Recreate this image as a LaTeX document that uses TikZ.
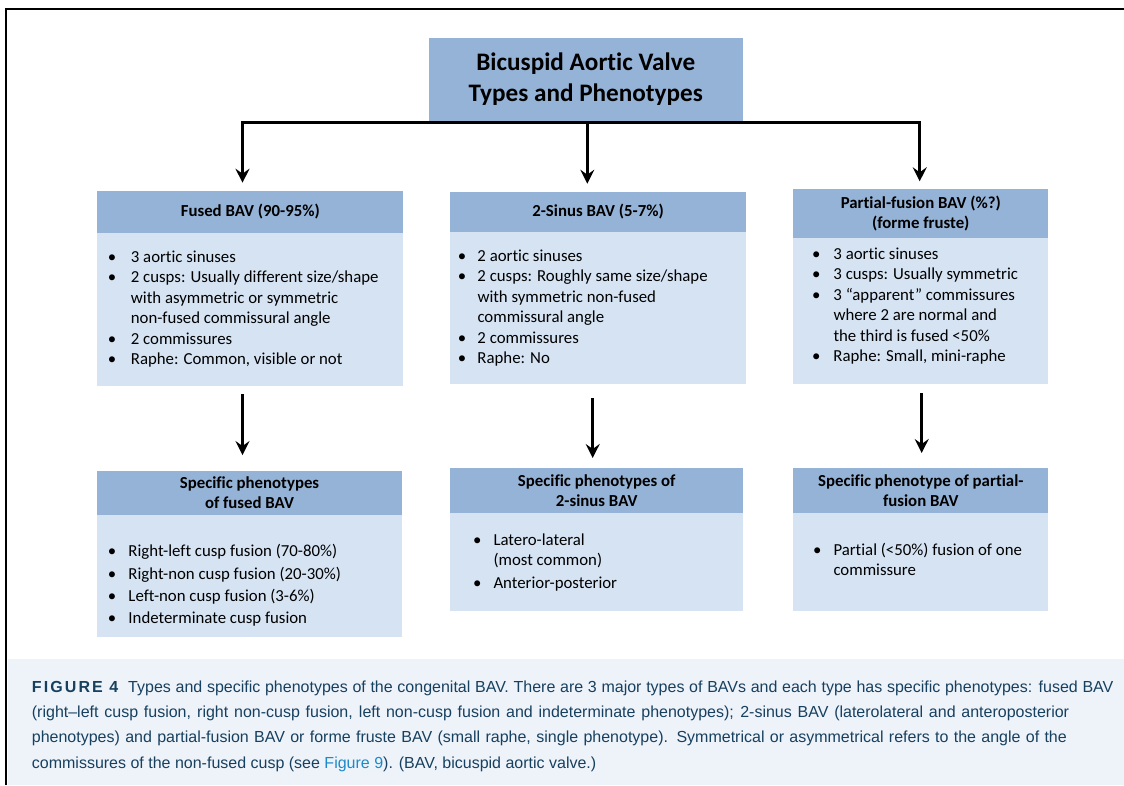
\documentclass[tikz,border=0pt]{standalone}
\usepackage{fontspec}
\setmainfont{Carlito}[Ligatures={NoCommon}]
\newfontfamily\capfont{Liberation Sans}
\usetikzlibrary{arrows.meta,calc}
\definecolor{hdrblue}{HTML}{95B3D7}
\definecolor{bodyblue}{HTML}{D5E3F3}
\definecolor{capbg}{HTML}{EEF3FA}
\definecolor{captext}{HTML}{17405F}
\definecolor{linkblue}{HTML}{1C8AC8}
\newcommand{\bi}[1]{\makebox[#1pt][l]{\textbullet}}
\newcommand{\ci}[1]{\hspace*{#1pt}}
\tikzset{
 boxbase/.style={rectangle, inner sep=0pt, outer sep=0pt, draw=none},
 hdr/.style={boxbase, fill=hdrblue, align=center, font=\bfseries\fontsize{16.8}{20}\selectfont},
 bodyrect/.style={boxbase, fill=bodyblue},
 bodytext/.style={anchor=north west, inner sep=0pt, align=left, font=\fontsize{16.8}{20.5}\selectfont},
 arr/.style={line width=2.6pt, -{Stealth[length=14pt,width=14pt,inset=5pt]}},
 bar/.style={line width=3.2pt, line cap=rect},
}
\begin{document}
\begin{tikzpicture}[x=1pt,y=-1pt]
\useasboundingbox (0,0) rectangle (1124,785);
\fill[capbg] (7.5,659.3) rectangle (1124,785);
\draw[line width=2.3pt] (6.2,785) -- (6.2,9.3) -- (1124,9.3);

% title
\node[hdr, minimum width=314pt, minimum height=83pt, font=\bfseries\fontsize{25.2}{30.5}\selectfont] (top) at (585.7,79.2) {Bicuspid Aortic Valve\\Types and Phenotypes};

% first row
\node[hdr, minimum width=306pt, minimum height=42pt] (h1) at (250.3,211.7) {Fused BAV (90-95\%)};
\node[bodyrect, minimum width=306pt, minimum height=153pt] (b1) at (250.3,309.2) {};
\node[hdr, minimum width=296pt, minimum height=40pt] (h2) at (598,211.7) {2-Sinus BAV (5-7\%)};
\node[bodyrect, minimum width=296pt, minimum height=152.3pt] (b2) at (598,307.9) {};
\node[hdr, minimum width=255pt, minimum height=49pt] (h3) at (920.8,213.8) {Partial-fusion BAV (\%?)\\(forme fruste)};
\node[bodyrect, minimum width=255pt, minimum height=146pt] (b3) at (920.8,311.3) {};

% second row
\node[hdr, minimum width=304.4pt, minimum height=44.3pt] (h4) at (249.5,492.9) {Specific phenotypes\\of fused BAV};
\node[bodyrect, minimum width=304.4pt, minimum height=121.7pt] (b4) at (249.5,575.9) {};
\node[hdr, minimum width=293.3pt, minimum height=45pt] (h5) at (596.7,490.8) {Specific phenotypes of\\2-sinus BAV};
\node[bodyrect, minimum width=293.3pt, minimum height=97.4pt] (b5) at (596.7,562) {};
\node[hdr, minimum width=255pt, minimum height=45pt] (h6) at (920.8,490.8) {Specific phenotype of partial-\\fusion BAV};
\node[bodyrect, minimum width=255pt, minimum height=97.4pt] (b6) at (920.8,562) {};

% body texts
\node[bodytext] (t1) at (107.7,247.6) {\strut\bi{23}3 aortic sinuses\\
\bi{23}2 cusps: Usually different size/shape\\
\ci{23}with asymmetric or symmetric\\
\ci{23}non-fused commissural angle\\
\bi{23}2 commissures\\
\bi{23}Raphe: Common, visible or not};
\node[bodytext] (t2) at (457.7,246.6) {\strut\bi{19.6}2 aortic sinuses\\
\bi{19.6}2 cusps: Roughly same size/shape\\
\ci{19.6}with symmetric non-fused\\
\ci{19.6}commissural angle\\
\bi{19.6}2 commissures\\
\bi{19.6}Raphe: No};
\node[bodytext] (t3) at (812,244.6) {\strut\bi{21.3}3 aortic sinuses\\
\bi{21.3}3 cusps: Usually symmetric\\
\bi{21.3}3 “apparent” commissures\\
\ci{21.3}where 2 are normal and\\
\ci{21.3}the third is fused <50\%\\
\bi{21.3}Raphe: Small, mini-raphe};
\node[bodytext] (t4) at (107.7,542.3) {\strut\bi{20.6}Right-left cusp fusion (70-80\%)\\[1.8pt]
\bi{20.6}Right-non cusp fusion (20-30\%)\\[1.8pt]
\bi{20.6}Left-non cusp fusion (3-6\%)\\[1.8pt]
\bi{20.6}Indeterminate cusp fusion};
\node[bodytext] (t5) at (473,530.6) {\strut\bi{20.3}Latero-lateral\\
\ci{20.3}(most common)\\[2pt]
\bi{20.3}Anterior-posterior};
\node[bodytext] (t6) at (813,540.6) {\strut\bi{20.3}Partial (<50\%) fusion of one\\
\ci{20.3}commissure};

% connectors
\path (top.south) ++(0,1.6) coordinate (jm);
\coordinate (jl) at (242.5,122.3);
\coordinate (jr) at (919.7,122.3);
\draw[bar] (jl) -- (jr);
\draw[arr, shorten >=8pt] (jl) -- (jl |- h1.north);
\draw[arr, shorten >=8pt] (jm -| 587.3,0) -- (h2.north -| 587.3,0);
\draw[arr, shorten >=8pt] (jr) -- (jr |- h3.north);

\draw[arr] ([xshift=-7.8pt,yshift=-8.3pt]b1.south) -- ([xshift=-7pt,yshift=15.7pt]h4.north);
\draw[arr] ([xshift=-5.3pt,yshift=-14pt]b2.south) -- ([xshift=-4pt,yshift=10.3pt]h5.north);
\draw[arr] ([xshift=0.9pt,yshift=-8.7pt]b3.south) -- ([xshift=0.9pt,yshift=15.3pt]h6.north);

% caption
\node[anchor=north west, inner sep=0pt, align=left, text=captext, font=\capfont\fontsize{16}{25.3}\selectfont] (cap) at (31.7,674.3) {\strut\makebox[1081.6pt][s]{{\bfseries F\kern2.1pt I\kern2.1pt G\kern2.1pt U\kern2.1pt R\kern2.1pt E\kern6.5pt 4}\hspace{10pt}Types and specific phenotypes of the congenital BAV. There are 3 major types of BAVs and each type has specific phenotypes: fused BAV}\\
\makebox[1037.3pt][s]{(right–left cusp fusion, right non-cusp fusion, left non-cusp fusion and indeterminate phenotypes); 2-sinus BAV (laterolateral and anteroposterior}\\
\makebox[1035pt][s]{phenotypes) and partial-fusion BAV or forme fruste BAV (small raphe, single phenotype). Symmetrical or asymmetrical refers to the angle of the}\\
commissures of the non-fused cusp (see \textcolor{linkblue}{Figure 9}). (BAV, bicuspid aortic valve.)};
\end{tikzpicture}
\end{document}
